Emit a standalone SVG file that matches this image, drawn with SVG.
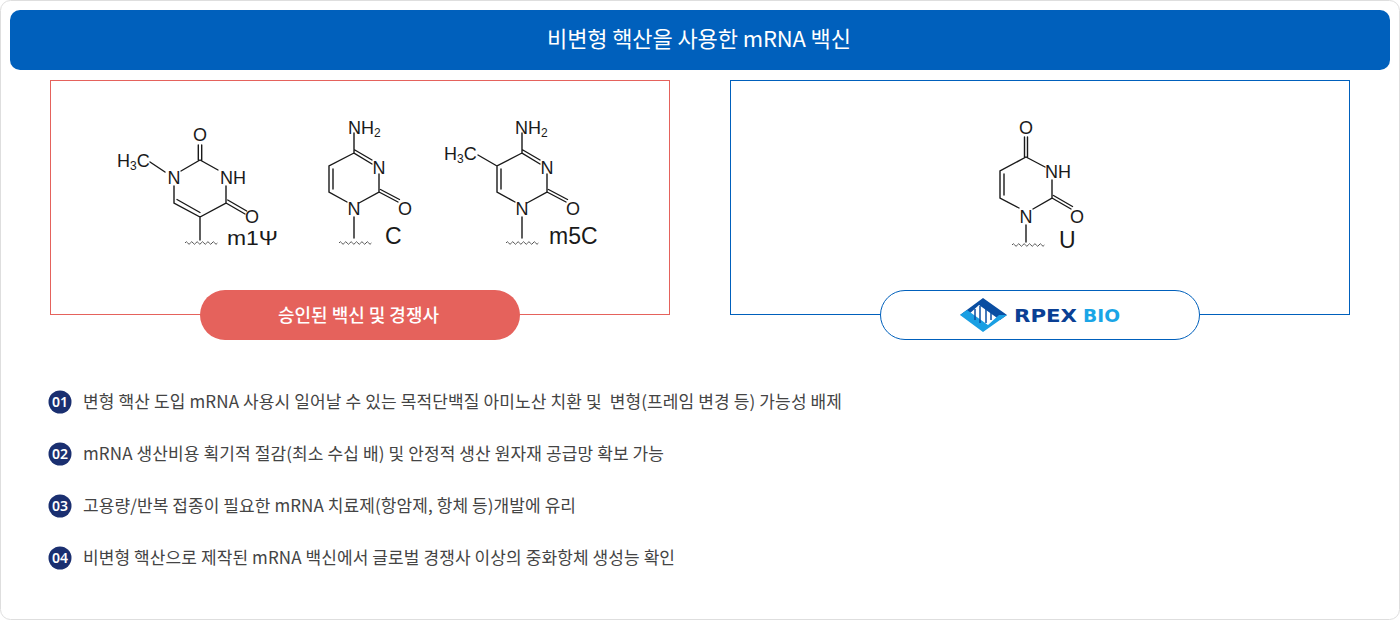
<svg xmlns="http://www.w3.org/2000/svg" width="1400" height="620" viewBox="0 0 1400 620">
<style>
.k{font-family:"Noto Sans CJK KR","Noto Sans",sans-serif}
.b{stroke:#1a1a1a;stroke-width:1.4;fill:none;stroke-linecap:round}
.w{stroke:#555;stroke-width:1;fill:none}
.a{font-family:"Liberation Sans",Arial,sans-serif;font-size:18px;fill:#1a1a1a}
.s{font-size:12px}
.l{font-family:"Liberation Sans",Arial,sans-serif;font-size:23px;fill:#1a1a1a}
.t{font-size:17px;fill:#444}
.c{fill:#1a2f70}
.n{font-family:"Noto Sans",sans-serif;font-size:14px;font-weight:600;fill:#fff;text-anchor:middle}
</style>
<defs>
<path id="wavy" class="w" d="M0 0q1.3-2.6 2.700 0t2.700 0 2.700 0 2.700 0 2.700 0 2.700 0 2.700 0 2.700 0 2.700 0 2.700 0 2.700 0 2.700 0"/>
</defs>
<rect width="1400" height="620" fill="#fff"/>
<rect x=".5" y=".5" width="1399" height="619" rx="10" fill="#fff" stroke="#dedede"/>
<g id="header">
<rect x="10" y="10" width="1380" height="60" rx="10" fill="#0060bc"/>
<text class="k" x="547" y="47" font-size="22" font-weight="400" fill="#fff" textLength="304">비변형 핵산을 사용한 mRNA 백신</text>
</g>
<g id="panel-left">
<rect x="50.5" y="80.5" width="619" height="234" fill="#fff" stroke="#e5625c"/>
<rect x="200" y="290" width="320" height="50" rx="25" fill="#e5625c"/>
<text class="k" x="278" y="322" font-size="18" font-weight="500" fill="#fff" textLength="161">승인된 백신 및 경쟁사</text>
</g>
<g id="m1psi">
<path class="b" d="M150 162 165 172M181 171 200 160 218 170M198.300 145V160M201.700 145V160M174 186V203L200 217 226 203V186M177 199.500 200 212.500M226 203 245 214M227.700 200 246.700 211M200 217V240"/>
<use href="#wavy" x="185" y="243"/>
<text class="a" x="117" y="167">H<tspan class="s" dy="3">3</tspan><tspan dy="-3">C</tspan></text>
<text class="a" x="200" y="140.500" text-anchor="middle">O</text>
<text class="a" x="174" y="183.500" text-anchor="middle">N</text>
<text class="a" x="220" y="183.500">NH</text>
<text class="a" x="252" y="222.500" text-anchor="middle">O</text>
<text class="l" x="227" y="245" style="font-size:21px" textLength="51" lengthAdjust="spacingAndGlyphs">m1Ψ</text>
</g>
<g id="cytosine">
<path class="b" d="M354 133V153L372 164M354 149.500 372 160M354 153 329 166V192L347 202M333 169V189M379 174V192L359 203M379 192 398 202M380.500 189.500 399.500 199.500M354 217V238"/>
<use href="#wavy" x="339" y="243"/>
<text class="a" x="348" y="133.500">NH<tspan class="s" dy="3">2</tspan></text>
<text class="a" x="379" y="173.500" text-anchor="middle">N</text>
<text class="a" x="405" y="214.500" text-anchor="middle">O</text>
<text class="a" x="354" y="214.500" text-anchor="middle">N</text>
<text class="l" x="385" y="244">C</text>
</g>
<g id="m5c">
<path class="b" d="M522 133V153L540 164M522 149.500 540 160M522 153 497 166V192L515 202M501 169V189M497 166 478 155M547 174V192L527 203M547 192 566 202M548.500 189.500 567.500 199.500M522 217V238"/>
<use href="#wavy" x="506" y="243"/>
<text class="a" x="515" y="133.500">NH<tspan class="s" dy="3">2</tspan></text>
<text class="a" x="444" y="160">H<tspan class="s" dy="3">3</tspan><tspan dy="-3">C</tspan></text>
<text class="a" x="547" y="173.500" text-anchor="middle">N</text>
<text class="a" x="573" y="214.500" text-anchor="middle">O</text>
<text class="a" x="522" y="214.500" text-anchor="middle">N</text>
<text class="l" x="549" y="244">m5C</text>
</g>
<g id="panel-right">
<rect x="730.500" y="80.500" width="619" height="234" fill="#fff" stroke="#0060bc"/>
<rect x="880.500" y="290.500" width="319" height="49" rx="24.500" fill="#fff" stroke="#0060bc"/>
</g>
<g id="uridine">
<path class="b" d="M1024.500 137V157M1027.500 137V157M1026 157 1045 167M1052 180V198L1033 209M1052 198 1071 209M1053.500 195.500 1072.500 206.500M1019 208 1000 198V171L1026 157M1004 195V174M1026 225V242"/>
<use href="#wavy" x="1012" y="245"/>
<text class="a" x="1026" y="133.500" text-anchor="middle">O</text>
<text class="a" x="1045" y="177.500">NH</text>
<text class="a" x="1077" y="222.500" text-anchor="middle">O</text>
<text class="a" x="1026" y="222.500" text-anchor="middle">N</text>
<text class="l" x="1059" y="248">U</text>
</g>
<g id="logo">
<path d="M983 298 1007 315 1000 320 979 305 968 315 960 315Z" fill="#0a4ea2"/>
<path d="M960 315 967 310 988 325 999 315 1007 315 983 332Z" fill="#1a9fe3"/>
<path d="M975 309V320M980 306V323M986 306V323M991 310V320" stroke="#0a4ea2" stroke-width="1.500"/>
<text x="1014" y="322" font-family="'DejaVu Sans',sans-serif" font-size="18" font-weight="700" fill="#0a3f94" textLength="63" lengthAdjust="spacingAndGlyphs">RPEX</text>
<text x="1083" y="322" font-family="'DejaVu Sans',sans-serif" font-size="18" font-weight="700" fill="#1aa5e6" textLength="37" lengthAdjust="spacingAndGlyphs">BIO</text>
</g>
<g id="item-1">
<circle class="c" cx="60" cy="402" r="11.500"/><text class="n" x="60" y="407">01</text>
<text class="k t" x="83" y="408" xml:space="preserve" textLength="759">변형 핵산 도입 mRNA 사용시 일어날 수 있는 목적단백질 아미노산 치환 및  변형(프레임 변경 등) 가능성 배제</text>
</g>
<g id="item-2">
<circle class="c" cx="60" cy="454" r="11.500"/><text class="n" x="60" y="459">02</text>
<text class="k t" x="83" y="460" textLength="581">mRNA 생산비용 획기적 절감(최소 수십 배) 및 안정적 생산 원자재 공급망 확보 가능</text>
</g>
<g id="item-3">
<circle class="c" cx="60" cy="506" r="11.500"/><text class="n" x="60" y="511">03</text>
<text class="k t" x="83" y="512" textLength="493">고용량/반복 접종이 필요한 mRNA 치료제(항암제, 항체 등)개발에 유리</text>
</g>
<g id="item-4">
<circle class="c" cx="60" cy="558" r="11.500"/><text class="n" x="60" y="563">04</text>
<text class="k t" x="83" y="564" textLength="592">비변형 핵산으로 제작된 mRNA 백신에서 글로벌 경쟁사 이상의 중화항체 생성능 확인</text>
</g>
</svg>
